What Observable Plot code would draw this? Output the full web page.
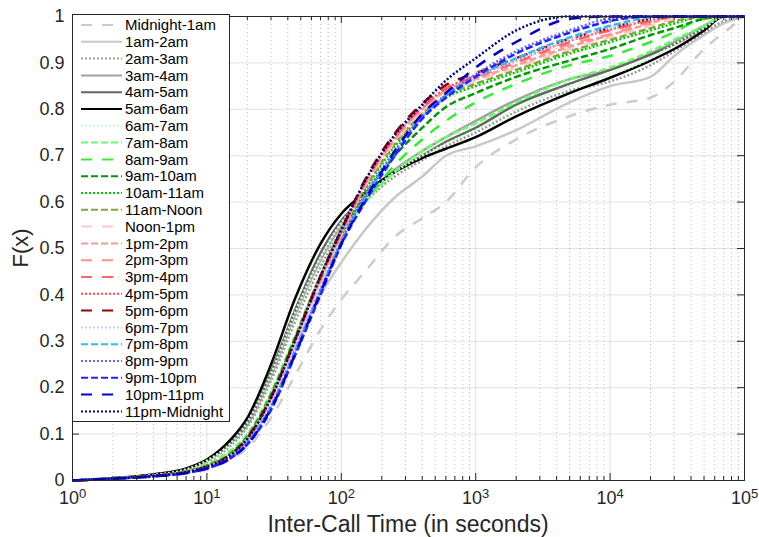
<!DOCTYPE html>
<html><head><meta charset="utf-8">
<script src="https://cdn.jsdelivr.net/npm/d3@7"></script>
<script src="https://cdn.jsdelivr.net/npm/@observablehq/plot@0.6"></script>
<style>
html,body{margin:0;padding:0;background:#fff;}
#chart{width:759px;height:537px;}
</style></head><body><div id="chart"></div>
<script>
const xs = [1, 2, 4, 7, 10, 15, 20, 30, 45, 70, 100, 150, 250, 400, 600, 1000, 2000, 5000, 10000, 20000, 30000, 50000, 70000, 100000];

const labels = ["Midnight-1am","1am-2am","2am-3am","3am-4am","4am-5am","5am-6am","6am-7am","7am-8am","8am-9am","9am-10am","10am-11am","11am-Noon","Noon-1pm","1pm-2pm","2pm-3pm","3pm-4pm","4pm-5pm","5pm-6pm","6pm-7pm","7pm-8pm","8pm-9pm","9pm-10pm","10pm-11pm","11pm-Midnight"];
const colors = ["#cccccc","#c8c8c8","#999999","#a0a0a0","#666666","#000000","#ccffcc","#66ff66","#33ee33","#009900","#00cc00","#77aa33","#ffcccc","#ff9999","#ff9090","#ff6666","#ff4d4d","#990000","#ccccff","#33bbee","#6666ff","#2222ff","#0000cc","#000080"];
const styles = ["long","solid","dot","solid","solid","solid","dot","short","long","short","dot","short","long","short","long","long","dot","long","dot","short","dot","short","long","dot"];

const f00 = [0, 0.003, 0.008, 0.015, 0.024, 0.045, 0.07, 0.135, 0.225, 0.325, 0.39, 0.45, 0.525, 0.565, 0.60, 0.675, 0.735, 0.785, 0.81, 0.825, 0.86, 0.93, 0.965, 1];
const f01 = [0, 0.004, 0.01, 0.02, 0.032, 0.06, 0.095, 0.18, 0.29, 0.40, 0.47, 0.54, 0.61, 0.655, 0.70, 0.72, 0.755, 0.815, 0.85, 0.87, 0.915, 0.96, 0.985, 1];
const f02 = [0, 0.005, 0.012, 0.023, 0.04, 0.075, 0.115, 0.215, 0.34, 0.46, 0.54, 0.60, 0.655, 0.69, 0.72, 0.75, 0.795, 0.84, 0.86, 0.895, 0.925, 0.965, 0.99, 1];
const f03 = [0, 0.005, 0.012, 0.024, 0.042, 0.08, 0.12, 0.225, 0.355, 0.475, 0.55, 0.61, 0.67, 0.71, 0.74, 0.775, 0.82, 0.865, 0.885, 0.92, 0.945, 0.98, 1, 1];
const f04 = [0, 0.005, 0.013, 0.025, 0.044, 0.082, 0.125, 0.235, 0.365, 0.49, 0.56, 0.61, 0.665, 0.70, 0.73, 0.76, 0.81, 0.855, 0.885, 0.918, 0.94, 0.975, 1, 1];
const f05 = [0, 0.005, 0.013, 0.026, 0.045, 0.088, 0.135, 0.25, 0.39, 0.51, 0.575, 0.62, 0.665, 0.695, 0.715, 0.74, 0.785, 0.835, 0.868, 0.905, 0.93, 0.97, 1, 1];
const f06 = [0, 0.005, 0.012, 0.024, 0.043, 0.08, 0.125, 0.23, 0.36, 0.48, 0.555, 0.61, 0.665, 0.70, 0.725, 0.755, 0.80, 0.85, 0.875, 0.91, 0.94, 0.975, 1, 1];
const f07 = [0, 0.004, 0.01, 0.02, 0.035, 0.065, 0.10, 0.19, 0.31, 0.44, 0.53, 0.60, 0.665, 0.71, 0.74, 0.77, 0.815, 0.865, 0.89, 0.925, 0.95, 0.98, 1, 1];
const f08 = [0, 0.004, 0.01, 0.019, 0.03, 0.055, 0.09, 0.18, 0.30, 0.43, 0.52, 0.60, 0.68, 0.735, 0.775, 0.815, 0.855, 0.895, 0.915, 0.945, 0.966, 0.997, 1, 1];
const f09 = [0, 0.004, 0.01, 0.019, 0.032, 0.058, 0.095, 0.185, 0.305, 0.44, 0.53, 0.615, 0.70, 0.76, 0.805, 0.835, 0.87, 0.905, 0.93, 0.96, 0.975, 0.995, 1, 1];
const f10 = [0, 0.004, 0.01, 0.019, 0.03, 0.055, 0.09, 0.18, 0.30, 0.44, 0.535, 0.625, 0.72, 0.785, 0.825, 0.85, 0.88, 0.92, 0.945, 0.97, 0.985, 1, 1, 1];
const f11 = [0, 0.004, 0.01, 0.019, 0.031, 0.056, 0.092, 0.182, 0.302, 0.442, 0.54, 0.63, 0.725, 0.79, 0.83, 0.855, 0.885, 0.925, 0.95, 0.975, 0.99, 1, 1, 1];
const f12 = [0, 0.004, 0.01, 0.018, 0.03, 0.054, 0.088, 0.175, 0.295, 0.43, 0.53, 0.635, 0.73, 0.795, 0.835, 0.86, 0.89, 0.93, 0.955, 0.98, 0.995, 1, 1, 1];
const f13 = [0, 0.004, 0.01, 0.018, 0.03, 0.055, 0.09, 0.178, 0.298, 0.432, 0.532, 0.64, 0.735, 0.80, 0.84, 0.865, 0.895, 0.935, 0.96, 0.985, 1, 1, 1, 1];
const f14 = [0, 0.004, 0.01, 0.018, 0.029, 0.054, 0.088, 0.176, 0.296, 0.43, 0.53, 0.638, 0.738, 0.802, 0.842, 0.868, 0.9, 0.94, 0.962, 0.988, 1, 1, 1, 1];
const f15 = [0, 0.004, 0.01, 0.018, 0.03, 0.055, 0.09, 0.178, 0.30, 0.435, 0.535, 0.642, 0.74, 0.805, 0.845, 0.87, 0.902, 0.945, 0.97, 0.99, 1, 1, 1, 1];
const f16 = [0, 0.004, 0.01, 0.018, 0.03, 0.055, 0.09, 0.178, 0.30, 0.436, 0.536, 0.645, 0.742, 0.805, 0.845, 0.872, 0.905, 0.948, 0.972, 0.992, 1, 1, 1, 1];
const f17 = [0, 0.004, 0.01, 0.018, 0.03, 0.056, 0.092, 0.18, 0.302, 0.44, 0.54, 0.648, 0.748, 0.812, 0.852, 0.878, 0.91, 0.952, 0.975, 0.995, 1, 1, 1, 1];
const f18 = [0, 0.004, 0.009, 0.017, 0.028, 0.052, 0.085, 0.165, 0.285, 0.42, 0.52, 0.615, 0.71, 0.785, 0.83, 0.87, 0.905, 0.95, 0.975, 0.995, 1, 1, 1, 1];
const f19 = [0, 0.004, 0.009, 0.017, 0.027, 0.05, 0.082, 0.16, 0.278, 0.41, 0.515, 0.61, 0.705, 0.78, 0.83, 0.87, 0.91, 0.955, 0.98, 0.998, 1, 1, 1, 1];
const f20 = [0, 0.004, 0.009, 0.017, 0.027, 0.05, 0.082, 0.16, 0.275, 0.41, 0.515, 0.615, 0.71, 0.785, 0.83, 0.875, 0.925, 0.97, 0.995, 1, 1, 1, 1, 1];
const f21 = [0, 0.004, 0.009, 0.016, 0.026, 0.048, 0.078, 0.152, 0.268, 0.40, 0.508, 0.60, 0.70, 0.78, 0.825, 0.87, 0.92, 0.965, 0.99, 1, 1, 1, 1, 1];
const f22 = [0, 0.004, 0.009, 0.016, 0.026, 0.048, 0.078, 0.155, 0.27, 0.405, 0.51, 0.605, 0.71, 0.79, 0.835, 0.89, 0.945, 0.995, 1, 1, 1, 1, 1, 1];
const f23 = [0, 0.004, 0.01, 0.018, 0.03, 0.055, 0.09, 0.178, 0.30, 0.44, 0.54, 0.645, 0.745, 0.81, 0.862, 0.91, 0.97, 1, 1, 1, 1, 1, 1, 1];

const seriesValues = [f00,f01,f02,f03,f04,f05,f06,f07,f08,f09,f10,f11,f12,f13,f14,f15,f16,f17,f18,f19,f20,f21,f22,f23];

const xMajor = [1, 10, 100, 1000, 10000, 100000];
const yTicks = [0, 0.1, 0.2, 0.3, 0.4, 0.5, 0.6, 0.7, 0.8, 0.9, 1];
const xLabel = "Inter-Call Time (in seconds)";
const yLabel = "F(x)";

const dash = {long: "11,10", short: "7,3", dot: "2,2", solid: null};

const xMinor = [];
for (let i = 0; i < xMajor.length - 1; i++) for (let k = 2; k <= 9; k++) xMinor.push(xMajor[i] * k);

const W = 759, H = 537, mL = 72, mR = 15, mT = 16, mB = 57;
const plotW = W - mL - mR, plotH = H - mT - mB;
const axisColor = "#262626";
const font = "'Liberation Sans', Arial, Helvetica, sans-serif";

const lineMarks = seriesValues.map((vals, i) => {
  const rows = xs.map((x, j) => ({x, F: vals[j], s: labels[i]}));
  return Plot.line(rows, {
    x: "x", y: "F", stroke: colors[i], strokeWidth: 2.5,
    strokeDasharray: dash[styles[i]] || undefined,
    strokeLinecap: "butt", strokeLinejoin: "round",
    curve: "monotone-x"
  });
});

const chart = Plot.plot({
  width: W, height: H,
  marginLeft: mL, marginRight: mR, marginTop: mT, marginBottom: mB,
  style: {fontFamily: font, fontSize: "18px", color: axisColor, background: "#fff", overflow: "visible"},
  x: {type: "log", domain: [1, 100000], axis: null},
  y: {domain: [0, 1], axis: null},
  marks: [
    Plot.gridX(xMinor, {stroke: axisColor, strokeOpacity: 0.3, strokeDasharray: "1,3"}),
    Plot.gridX(xMajor, {stroke: axisColor, strokeOpacity: 0.13}),
    Plot.gridY(yTicks, {stroke: axisColor, strokeOpacity: 0.13}),
    ...lineMarks,
    Plot.frame({stroke: axisColor, strokeWidth: 1}),
    Plot.tickX(xMajor, {stroke: axisColor, insetTop: plotH - 7}),
    Plot.tickX(xMajor, {stroke: axisColor, insetBottom: plotH - 7}),
    Plot.tickX(xMinor, {stroke: axisColor, insetTop: plotH - 4}),
    Plot.tickX(xMinor, {stroke: axisColor, insetBottom: plotH - 4}),
    Plot.tickY(yTicks, {stroke: axisColor, insetRight: plotW - 7}),
    Plot.tickY(yTicks, {stroke: axisColor, insetLeft: plotW - 7}),
    Plot.axisX(xMajor, {tickSize: 0, tickPadding: 11, fontSize: 18, label: null,
      tickFormat: d => String(Math.round(Math.log10(d)))}),
    Plot.axisY(yTicks, {tickSize: 0, tickPadding: 8, fontSize: 18, label: null,
      tickFormat: d => String(+d.toFixed(1))})
  ]
});

document.getElementById("chart").appendChild(chart);

const svg = d3.select(chart);

// superscript exponents on x tick labels
svg.selectAll('g[aria-label="x-axis tick label"] text').each(function() {
  const t = d3.select(this);
  const k = t.text();
  t.text("10");
  t.append("tspan").attr("dy", "-0.5em").attr("font-size", "13px").text(k);
});

// axis titles
svg.append("text")
  .attr("x", mL + plotW / 2).attr("y", 532)
  .attr("text-anchor", "middle").attr("font-size", "23px")
  .attr("font-family", font).attr("fill", axisColor)
  .text(xLabel);
svg.append("text")
  .attr("transform", `translate(28,${mT + plotH / 2}) rotate(-90)`)
  .attr("text-anchor", "middle").attr("font-size", "22px")
  .attr("font-family", font).attr("fill", axisColor)
  .text(yLabel);

// legend
const lg = svg.append("g").attr("font-family", font).attr("font-size", "15px").attr("text-anchor", "start");
lg.append("rect").attr("x", 72.5).attr("y", 14.5).attr("width", 157).attr("height", 407)
  .attr("fill", "#fff").attr("stroke", axisColor).attr("stroke-width", 1);
labels.forEach((lab, i) => {
  const y = 25 + i * 16.8;
  lg.append("line").attr("x1", 81).attr("x2", 122).attr("y1", y).attr("y2", y)
    .attr("stroke", colors[i]).attr("stroke-width", 2)
    .attr("stroke-dasharray", dash[styles[i]] || null);
  lg.append("text").attr("x", 125).attr("y", y).attr("dy", "0.35em")
    .attr("text-anchor", "start").attr("fill", "#000").text(lab);
});
</script>
</body></html>
